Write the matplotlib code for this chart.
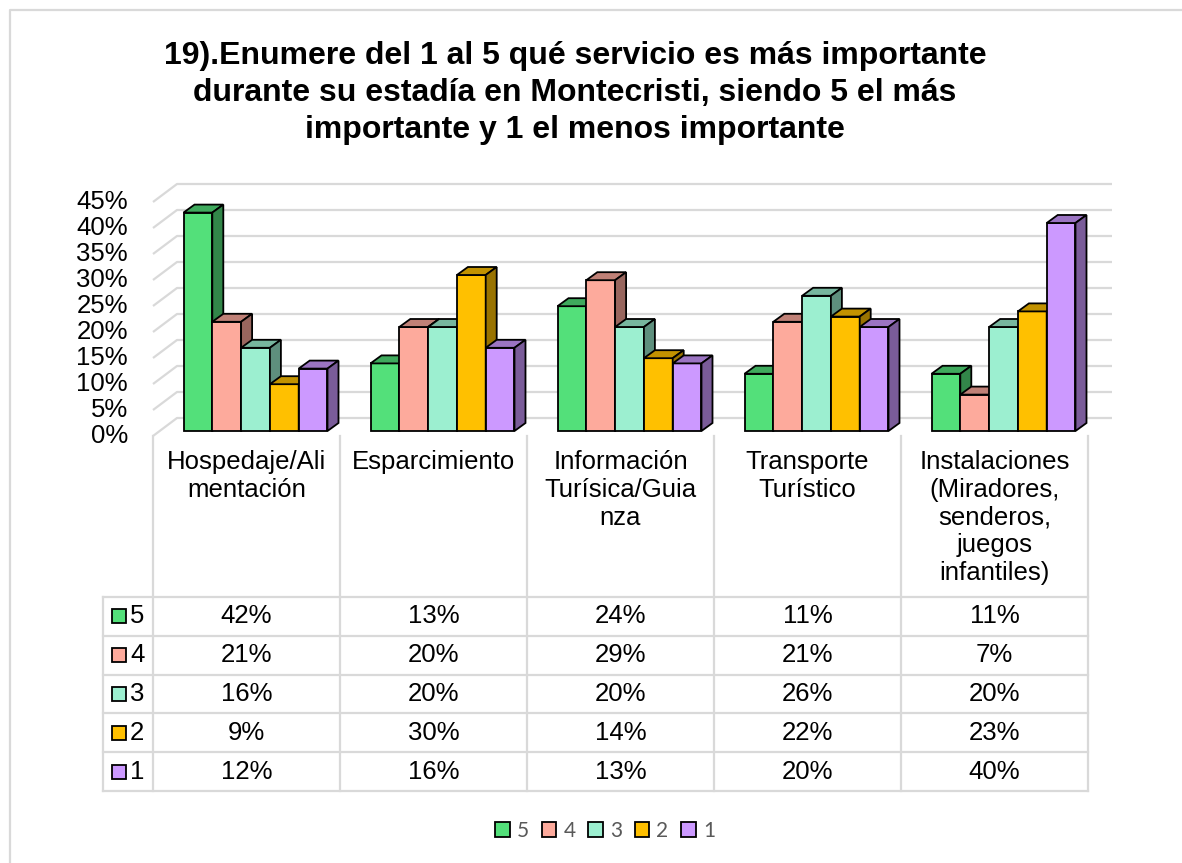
import matplotlib
matplotlib.use('Agg')
import matplotlib.pyplot as plt
from matplotlib.patches import Polygon, Rectangle, Patch
import numpy as np

plt.rcParams['font.family'] = ['Liberation Sans', 'DejaVu Sans']

# data
categories = ['Hospedaje/Ali\nmentación', 'Esparcimiento',
              'Información\nTurísica/Guia\nnza', 'Transporte\nTurístico',
              'Instalaciones\n(Miradores,\nsenderos,\njuegos\ninfantiles)']
series = ['5', '4', '3', '2', '1']
s5 = [42, 13, 24, 11, 11]
s4 = [21, 20, 29, 21, 7]
s3 = [16, 20, 20, 26, 20]
s2 = [9, 30, 14, 22, 23]
s1 = [12, 16, 13, 20, 40]
values = [s5, s4, s3, s2, s1]
yticks = [0, 5, 10, 15, 20, 25, 30, 35, 40, 45]
title = ('19).Enumere del 1 al 5 qué servicio es más importante\n'
         'durante su estadía en Montecristi, siendo 5 el más\n'
         'importante y 1 el menos importante')

colors = ['#53E07A', '#FDAA9C', '#9CEFD0', '#FFC000', '#CC99FF']
grid_c = '#D9D9D9'


def shade(c, f):
    r, g, b = matplotlib.colors.to_rgb(c)
    return (r * f, g * f, b * f)


W, H = 1182, 863
fig = plt.figure(figsize=(W / 100, H / 100), dpi=100)

# plot area (front plane) in pixels
xl, xr = 153, 1088
y0, ytop = 436, 202
ax = fig.add_axes([xl / W, 1 - y0 / H, (xr - xl) / W, (y0 - ytop) / H])
ax.set_xlim(0, 5)
ax.set_ylim(0, 45)
ax.axis('off')

kx = 5 / (xr - xl)      # data per pixel
ky = 45 / (y0 - ytop)

# back wall gridlines + left wall diagonals
BX, BY = 24 * kx, 18 * ky
for v in yticks:
    ax.plot([0, BX, 5 + BX], [v, v + BY, v + BY], color=grid_c, lw=1.6,
            clip_on=False, zorder=1, solid_capstyle='butt')
    ax.text(-25 * kx, v, f'{v}%', ha='right', va='center', fontsize=18.5)

# 3d-looking bars
PX, PY = 9 * kx, 5 * ky       # bar front plane offset
DX, DY = 11 * kx, 8 * ky      # bar depth
bw = 0.154
for i in range(len(categories)):
    for j, vals in enumerate(values):
        v = vals[i]
        x0 = i + 0.5 - 2.5 * bw + j * bw + PX
        x1 = x0 + bw
        b, t = PY, PY + v
        c = colors[j]
        ax.add_patch(Rectangle((x0, b), bw, v, facecolor=c, edgecolor='black',
                               lw=1.3, clip_on=False, zorder=2))
        ax.add_patch(Polygon([(x0, t), (x1, t), (x1 + DX, t + DY), (x0 + DX, t + DY)],
                             closed=True, facecolor=shade(c, 0.76), edgecolor='black',
                             lw=1.3, clip_on=False, zorder=2))
        ax.add_patch(Polygon([(x1, b), (x1 + DX, b + DY), (x1 + DX, t + DY), (x1, t)],
                             closed=True, facecolor=shade(c, 0.6), edgecolor='black',
                             lw=1.3, clip_on=False, zorder=2))

# data table on a pixel overlay
tx = fig.add_axes([0, 0, 1, 1])
tx.set_xlim(0, W)
tx.set_ylim(H, 0)
tx.axis('off')

# chart border (left and top only visible)
tx.plot([10, 10, W], [H, 10, 10], color=grid_c, lw=1.6)

tx.text(575, 93, title, ha='center', va='center', fontsize=23, fontweight='bold',
        linespacing=1.3)

col_w = (xr - xl) / 5
col_edges = [xl + col_w * k for k in range(6)]
row_top, row_h = 597, 38.8
row_edges = [row_top + row_h * r for r in range(6)]
key_l = 103

for xe in col_edges:
    tx.plot([xe, xe], [y0, row_edges[-1]], color=grid_c, lw=1.6)
tx.plot([key_l, key_l], [row_top, row_edges[-1]], color=grid_c, lw=1.6)
for ye in row_edges:
    tx.plot([key_l, xr], [ye, ye], color=grid_c, lw=1.6)

for i, cat in enumerate(categories):
    cx = col_edges[i] + col_w / 2
    tx.text(cx, 450, cat, ha='center', va='top', fontsize=18.5, linespacing=1.2)
    for j, vals in enumerate(values):
        cy = row_top + row_h * (j + 0.5)
        tx.text(cx, cy, f'{vals[i]}%', ha='center', va='center', fontsize=18.5)

for j, name in enumerate(series):
    cy = row_top + row_h * (j + 0.5)
    tx.add_patch(Rectangle((112, cy - 7), 14, 14, facecolor=colors[j],
                           edgecolor='black', lw=1.3))
    tx.text(130, cy, name, ha='left', va='center', fontsize=18.5)

handles = [Patch(facecolor=c, edgecolor='black', lw=1.3) for c in colors]
fig.legend(handles, series, loc='center', bbox_to_anchor=(605 / W, 1 - 831 / H),
           ncol=5, frameon=False, labelcolor='#595959',
           handlelength=0.7, handleheight=0.7, handletextpad=0.35,
           columnspacing=0.6, prop={'family': ['Lato', 'DejaVu Sans'], 'size': 15})

fig.savefig('out.png', dpi=100)
